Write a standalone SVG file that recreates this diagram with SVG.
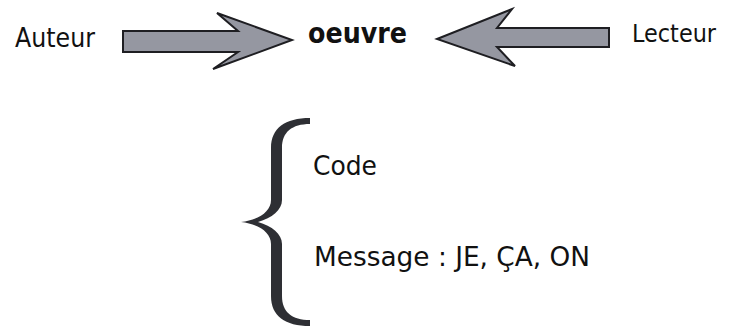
<svg xmlns="http://www.w3.org/2000/svg" width="729" height="327" viewBox="0 0 729 327">
  <style>
    .t { font-family: "DejaVu Sans", "Liberation Sans", sans-serif; font-size: 27px; fill: #111; }
    .b { font-weight: bold; font-size: 29px; }
    .arrow { fill: #9597a1; stroke: #1e1e22; stroke-width: 2; stroke-linejoin: miter; }
    .brace { fill: #2e2f34; }
  </style>
  <rect width="729" height="327" fill="#ffffff"/>
  <g id="auteur"><text class="t" x="15" y="47" textLength="80" lengthAdjust="spacingAndGlyphs">Auteur</text></g>
  <g id="oeuvre"><text class="t b" x="308" y="43" textLength="99" lengthAdjust="spacingAndGlyphs">oeuvre</text></g>
  <g id="lecteur"><text class="t" x="632" y="42" style="font-size:25px" textLength="84" lengthAdjust="spacingAndGlyphs">Lecteur</text></g>
  <g id="connectors">
    <polygon class="arrow" points="123,31 238,31 217,13 292,40 213,69 238,52 123,52"/>
    <polygon class="arrow" points="609,28 497,28 512,9 437,39 515,66 497,47 609,47"/>
  </g>
  <g id="brace">
    <path class="brace" d="M 310 118 C 285 118, 271 128, 271 148 L 271 200 C 271 212, 258 220, 241 222 C 258 224, 271 232, 271 244 L 271 296 C 271 316, 285 326, 310 326 L 310 320 C 292 320, 282 312, 282 296 L 282 244 C 282 234, 272 226, 258 222 C 272 218, 282 210, 282 200 L 282 148 C 282 132, 292 124, 310 124 Z"/>
  </g>
  <g id="code"><text class="t" x="313" y="175" textLength="64" lengthAdjust="spacingAndGlyphs">Code</text></g>
  <g id="message"><text class="t" x="314" y="266" textLength="276" lengthAdjust="spacingAndGlyphs">Message : JE, ÇA, ON</text></g>
</svg>
